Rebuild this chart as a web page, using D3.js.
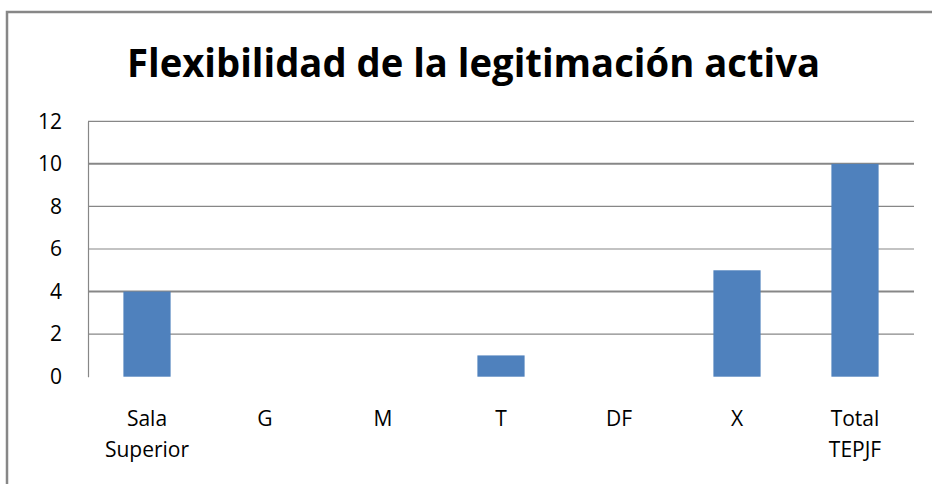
<!DOCTYPE html>
<html lang="es">
<head>
  <meta charset="UTF-8">
  <title>Flexibilidad de la legitimación activa</title>
  <script src="https://cdnjs.cloudflare.com/ajax/libs/d3/7.8.5/d3.min.js"></script>
  <style>
    body {
      margin: 0;
      background: white;
    }
    svg {
      display: block;
      font-family: "Open Sans", sans-serif;
    }
  </style>
</head>
<body>
  <script>
    var categories = [["Sala", "Superior"], ["G"], ["M"], ["T"], ["DF"], ["X"], ["Total", "TEPJF"]];
    var values = [4, 0, 0, 1, 0, 5, 10];
    var yTicks = [0, 2, 4, 6, 8, 10, 12];

    var w = 932;
    var h = 484;
    var plotLeft = 88, plotRight = 914, plotTop = 121.3, plotBottom = 376.7;

    var svg = d3.select("body").append("svg")
      .attr("width", w)
      .attr("height", h);

    // outer frame
    svg.append("rect")
      .attr("x", 7)
      .attr("y", 12)
      .attr("width", w + 20)
      .attr("height", h)
      .attr("fill", "white")
      .attr("stroke", "#878787")
      .attr("stroke-width", 2.5);

    svg.append("text")
      .attr("x", 127)
      .attr("y", 77)
      .attr("textLength", 693)
      .attr("lengthAdjust", "spacingAndGlyphs")
      .style("font-size", "40px")
      .style("font-weight", "bold")
      .attr("fill", "black")
      .text("Flexibilidad de la legitimación activa");

    var xScale = d3.scaleBand()
      .domain(d3.range(categories.length))
      .range([plotLeft, plotRight]);

    var yScale = d3.scaleLinear()
      .domain([0, 12])
      .range([plotBottom, plotTop]);

    // gridlines (no line at zero)
    svg.selectAll("line.grid")
      .data(yTicks.filter(function(d) { return d > 0; }))
      .enter()
      .append("line")
      .attr("class", "grid")
      .attr("x1", plotLeft)
      .attr("x2", plotRight)
      .attr("y1", function(d) { return yScale(d); })
      .attr("y2", function(d) { return yScale(d); })
      .attr("stroke", "#878787")
      .attr("stroke-width", function(d) { return (d === 10 || d === 4) ? 2 : 1.2; });

    var yAxis = d3.axisLeft(yScale)
      .tickValues(yTicks)
      .tickSize(0)
      .tickPadding(26);

    var gy = svg.append("g")
      .attr("transform", "translate(" + plotLeft + ",0)")
      .call(yAxis);
    gy.select(".domain").attr("stroke", "#878787").attr("stroke-width", 1.2);
    gy.selectAll("text")
      .style("font-size", "21px")
      .style("font-family", "'Open Sans', sans-serif")
      .attr("fill", "black");

    svg.selectAll("rect.bar")
      .data(values)
      .enter()
      .append("rect")
      .attr("class", "bar")
      .attr("x", function(d, i) { return xScale(i) + xScale.bandwidth() * 0.3; })
      .attr("width", xScale.bandwidth() * 0.4)
      .attr("y", function(d) { return yScale(d); })
      .attr("height", function(d) { return yScale(0) - yScale(d); })
      .attr("fill", "#4F81BD");

    var labels = svg.selectAll("text.cat")
      .data(categories)
      .enter()
      .append("text")
      .attr("class", "cat")
      .attr("text-anchor", "middle")
      .style("font-size", "21px")
      .attr("fill", "black");

    labels.selectAll("tspan")
      .data(function(d, i) {
        return d.map(function(s, j) { return { s: s, i: i, j: j }; });
      })
      .enter()
      .append("tspan")
      .attr("x", function(d) { return xScale(d.i) + xScale.bandwidth() / 2; })
      .attr("y", function(d) { return 426 + d.j * 31; })
      .text(function(d) { return d.s; });
  </script>
</body>
</html>
